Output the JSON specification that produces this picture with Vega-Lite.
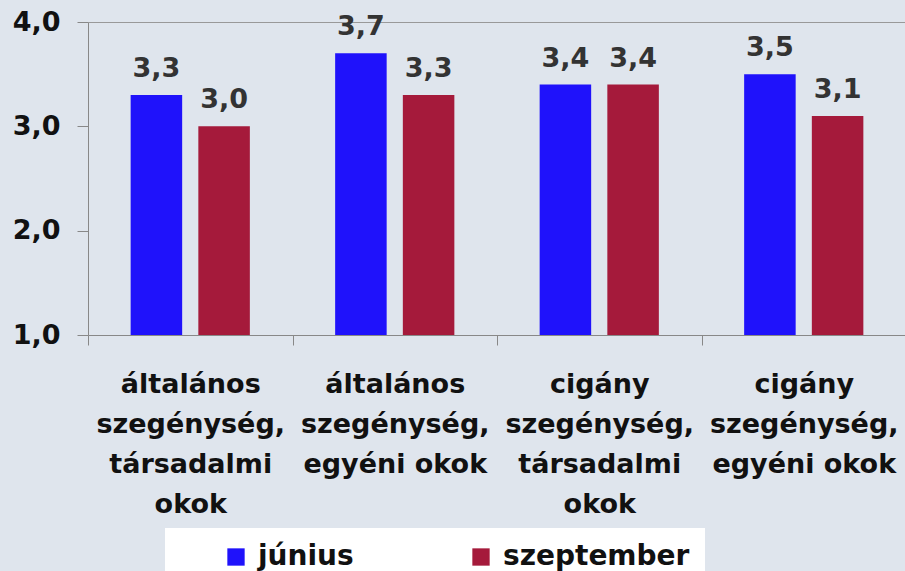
{
  "$schema": "https://vega.github.io/schema/vega-lite/v6.json",
  "width": 818,
  "height": 313,
  "autosize": {"type": "none"},
  "padding": {"left": 88, "top": 22, "right": 0, "bottom": 236},
  "background": "#dfe5ed",
  "config": {
    "locale": {"number": {"decimal": ",", "thousands": " ", "grouping": [3], "currency": ["", " Ft"]}},
    "view": {"stroke": null},
    "font": "DejaVu Sans"
  },
  "data": {
    "values": [
      {"kategoria": "általános\nszegénység,\ntársadalmi\nokok", "honap": "június", "ertek": 3.3},
      {"kategoria": "általános\nszegénység,\ntársadalmi\nokok", "honap": "szeptember", "ertek": 3.0},
      {"kategoria": "általános\nszegénység,\negyéni okok", "honap": "június", "ertek": 3.7},
      {"kategoria": "általános\nszegénység,\negyéni okok", "honap": "szeptember", "ertek": 3.3},
      {"kategoria": "cigány\nszegénység,\ntársadalmi\nokok", "honap": "június", "ertek": 3.4},
      {"kategoria": "cigány\nszegénység,\ntársadalmi\nokok", "honap": "szeptember", "ertek": 3.4},
      {"kategoria": "cigány\nszegénység,\negyéni okok", "honap": "június", "ertek": 3.5},
      {"kategoria": "cigány\nszegénység,\negyéni okok", "honap": "szeptember", "ertek": 3.1}
    ]
  },
  "encoding": {
    "x": {
      "field": "kategoria", "type": "nominal", "sort": null,
      "scale": {"paddingInner": 0, "paddingOuter": 0},
      "axis": {
        "title": null, "labelAngle": 0, "tickBand": "extent",
        "labelExpr": "isValid(datum.value) ? split(datum.value, '\\n') : ''",
        "labelFont": "DejaVu Sans", "labelFontWeight": "bold", "labelFontSize": 27,
        "labelColor": "#111111", "labelLineHeight": 40, "labelBaseline": "alphabetic",
        "labelPadding": 47, "tickSize": 10, "tickColor": "#888888",
        "domainColor": "#888888", "labelLimit": 0
      }
    },
    "xOffset": {"field": "honap", "type": "nominal", "scale": {"paddingInner": 0.239, "paddingOuter": 0.63}},
    "y": {
      "field": "ertek", "type": "quantitative",
      "scale": {"domain": [1, 4], "zero": false, "nice": false},
      "axis": {
        "title": null, "values": [1, 2, 3, 4], "format": ".1f",
        "labelFont": "DejaVu Sans", "labelFontWeight": "bold", "labelFontSize": 27,
        "labelColor": "#111111", "labelPadding": 17, "tickSize": 11,
        "tickColor": "#888888", "domainColor": "#888888",
        "grid": true, "gridColor": "#999999",
        "gridOpacity": {"condition": {"test": "datum.value === 4", "value": 1}, "value": 0}
      }
    }
  },
  "layer": [
    {
      "mark": {"type": "bar", "clip": true},
      "encoding": {
        "color": {
          "field": "honap", "type": "nominal",
          "scale": {"domain": ["június", "szeptember"], "range": ["#1f12fb", "#a51a3b"]},
          "legend": {
            "title": null, "orient": "none", "direction": "horizontal",
            "legendX": 77, "legendY": 506,
            "fillColor": "#ffffff", "padding": 15,
            "symbolType": "square", "symbolSize": 300, "symbolStrokeWidth": 0,
            "symbolOffset": 42,
            "labelFont": "DejaVu Sans", "labelFontWeight": "bold", "labelFontSize": 28,
            "labelColor": "#111111", "labelOffset": 8, "columnPadding": 71,
            "labelLimit": 0
          }
        }
      }
    },
    {
      "mark": {"type": "text", "baseline": "alphabetic", "dy": -18, "font": "DejaVu Sans", "fontWeight": "bold", "fontSize": 27, "color": "#333333"},
      "encoding": {
        "text": {"field": "ertek", "type": "quantitative", "format": ".1f"}
      }
    }
  ]
}
